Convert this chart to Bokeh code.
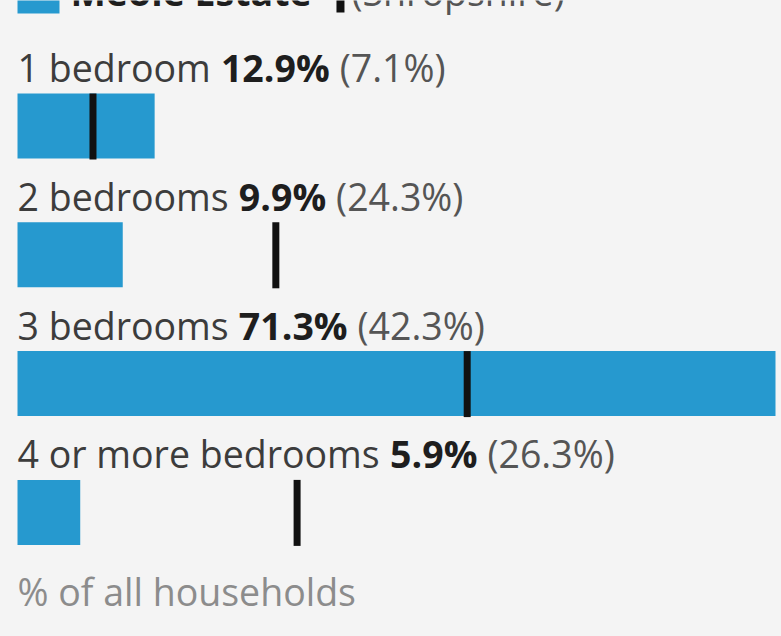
from bokeh.plotting import figure
from bokeh.models import Range1d
from bokeh.embed import file_html
from bokeh.resources import INLINE
from bokeh.core.properties import value

# ---- data ----
categories = ["1 bedroom", "2 bedrooms", "3 bedrooms", "4 or more bedrooms"]
area_values = [12.9, 9.9, 71.3, 5.9]          # Meole Estate
comparison_values = [7.1, 24.3, 42.3, 26.3]   # Shropshire
area_name = "Meole Estate"
comparison_name = "Shropshire"
footer_label = "% of all households"

# ---- style ----
BG = "#f4f4f4"
BLUE = "#2699cf"
MARK = "#111111"
FONT = "Open Sans"
FS = 37.5
TXT_SHIFT = -14   # correction of rendered baseline

W, H = 781, 636
LEFT_PX = 17
RIGHT_PX = 775
xmax = max(area_values)
scale = (RIGHT_PX - LEFT_PX) / xmax
x_start = -LEFT_PX / scale
x_end = xmax + (W - RIGHT_PX) / scale

# approximate Open Sans advance widths (units per em 2048)
REG = {' ': 532, '%': 1702, '(': 608, ')': 608, '.': 545, 'a': 1139, 'b': 1255,
       'c': 975, 'd': 1255, 'e': 1149, 'f': 694, 'g': 1122, 'h': 1257, 'i': 518,
       'l': 518, 'm': 1905, 'n': 1257, 'o': 1237, 'p': 1255, 'r': 836, 's': 977,
       't': 723, 'u': 1257, 'M': 1853, 'E': 1108, 'S': 1108}
BOLD = {' ': 532, '%': 1853, '.': 586, 'M': 1890, 'e': 1151, 'o': 1237, 'l': 598,
        'E': 1104, 's': 997, 't': 836, 'a': 1200}


def tw(s, size, bold=False):
    tab = BOLD if bold else REG
    tot = 0
    for ch in s:
        if ch.isdigit():
            tot += 1171
        else:
            tot += tab.get(ch, REG.get(ch, 1150))
    return tot * size / 2048.0


p = figure(width=W, height=H, x_range=Range1d(x_start, x_end), y_range=Range1d(H, 0),
           output_backend="svg", toolbar_location=None, min_border=0,
           min_border_left=0, min_border_right=0, min_border_top=0, min_border_bottom=0,
           x_axis_type=None, y_axis_type=None, outline_line_color=None,
           background_fill_color=BG, border_fill_color=BG)
p.grid.visible = False

ROW0 = 93.0
PITCH = 128.8
BAR_H = 65.0
LABEL_GAP = 12.0

tops = [ROW0 + i * PITCH for i in range(len(categories))]
bottoms = [t + BAR_H for t in tops]

p.quad(left=[0] * len(area_values), right=area_values, top=tops, bottom=bottoms,
       fill_color=BLUE, line_color=None)
p.segment(x0=comparison_values, y0=tops, x1=comparison_values, y1=[b + 1 for b in bottoms],
          line_color=MARK, line_width=7, line_cap="butt")

common_style = dict(text_font=value(FONT), text_font_size=f"{FS}px",
                    text_baseline="alphabetic", text_align="left")

for cat, v, c, t in zip(categories, area_values, comparison_values, tops):
    base = t - LABEL_GAP + TXT_SHIFT
    s1 = cat
    s2 = f"{v:.1f}%"
    s3 = f"({c:.1f}%)"
    o2 = tw(s1 + " ", FS)
    o3 = o2 + tw(s2 + " ", FS, bold=True)
    p.text(x=[0], y=[base], text=[s1], text_color="#3c3c3c", **common_style)
    p.text(x=[0], y=[base], text=[s2], text_color="#1e1e1e", text_font_style="bold",
           x_offset=o2, **common_style)
    p.text(x=[0], y=[base], text=[s3], text_color="#555555", x_offset=o3, **common_style)

# footer
p.text(x=[0], y=[605 + TXT_SHIFT], text=[footer_label], text_color="#8c8c8c", **common_style)

# legend (mostly above the visible crop)
LEG_BASE = 5 + TXT_SHIFT
sq = 42 / scale
p.quad(left=[0], right=[sq], top=[-29], bottom=[13], fill_color=BLUE, line_color=None)
leg_txt_off = 53
p.text(x=[0], y=[LEG_BASE], text=[area_name], x_offset=leg_txt_off, text_color="#1e1e1e",
       text_font_style="bold", **common_style)
bar_off = leg_txt_off + tw(area_name + " ", FS, bold=True) + 28
bx = bar_off / scale
p.segment(x0=[bx], y0=[-29], x1=[bx], y1=[12], line_color=MARK, line_width=8, line_cap="butt")
p.text(x=[0], y=[LEG_BASE], text=[f"({comparison_name})"], x_offset=bar_off + 11,
       text_color="#555555", **common_style)

html = file_html(p, INLINE)
html = html.replace("</head>", "<style>html,body{background:%s;}</style></head>" % BG, 1)
open("out.html", "w").write(html)
